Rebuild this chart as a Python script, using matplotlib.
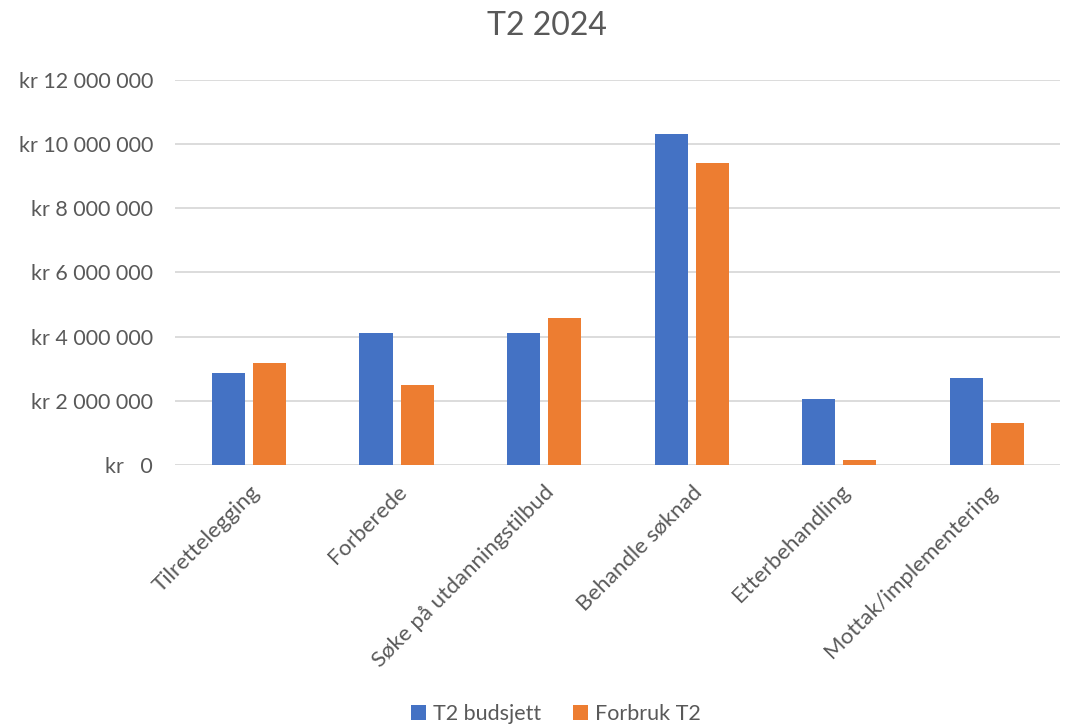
import matplotlib.pyplot as plt
import numpy as np
from matplotlib.ticker import FuncFormatter

plt.rcParams['font.family'] = ['Lato', 'DejaVu Sans']

categories = ['Tilrettelegging', 'Forberede', 'Søke på utdanningstilbud',
              'Behandle søknad', 'Etterbehandling', 'Mottak/implementering']
budsjett = [2860000, 4120000, 4120000, 10320000, 2050000, 2700000]
forbruk = [3180000, 2490000, 4580000, 9400000, 165000, 1310000]

blue = '#4472C4'
orange = '#ED7D31'
grey = '#595959'

fig = plt.figure(figsize=(10.69, 7.27), dpi=100)
ax = fig.add_axes([0.164, 0.3604, 0.828, 0.5296])

x = np.arange(len(categories))
w = 0.224
gap = 0.055
ax.bar(x - (w + gap) / 2, budsjett, w, color=blue, label='T2 budsjett', zorder=3)
ax.bar(x + (w + gap) / 2, forbruk, w, color=orange, label='Forbruk T2', zorder=3)

ax.set_xlim(-0.5, len(categories) - 0.5)
ax.set_ylim(0, 12000000)
ax.set_yticks(np.arange(0, 12000001, 2000000))


def kr(v, pos):
    if v == 0:
        return 'kr   0'
    return 'kr ' + f'{int(v):,}'.replace(',', ' ')


ax.yaxis.set_major_formatter(FuncFormatter(kr))
ax.grid(axis='y', color='#d9d9d9', linewidth=1.3, zorder=0)
for s in ax.spines.values():
    s.set_visible(False)
ax.tick_params(axis='y', length=0, labelsize=15.5, labelcolor=grey, pad=16)
ax.set_xticks(x)
ax.set_xticklabels(categories, rotation=45, ha='right', rotation_mode='anchor')
ax.tick_params(axis='x', length=0, labelsize=16, labelcolor=grey, pad=12)

fig.suptitle('T2 2024', fontsize=23, color=grey, x=0.512, y=0.985)
fig.legend(loc='lower center', ncol=2, frameon=False, fontsize=15.5,
           labelcolor=grey, handlelength=0.7, handleheight=0.7,
           handletextpad=0.3, columnspacing=1.5, bbox_to_anchor=(0.52, -0.022))

fig.savefig('out.png', dpi=100)
